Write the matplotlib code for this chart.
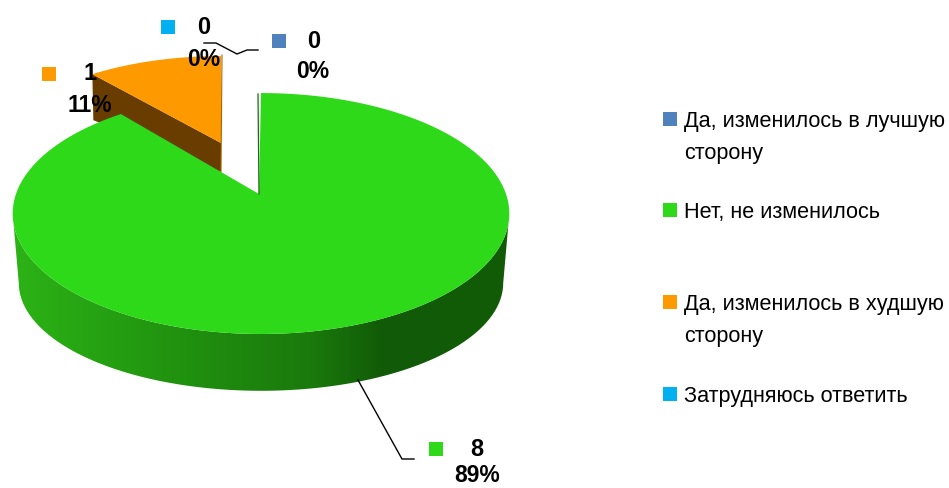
"""Exploded 3D-look pie of survey answers, drawn on a pixel-sized axes."""
import numpy as np
import matplotlib
matplotlib.use("Agg")
import matplotlib.pyplot as plt
from matplotlib.patches import Polygon, Rectangle
from matplotlib.colors import LinearSegmentedColormap

categories = ["Да, изменилось в лучшую\nсторону", "Нет, не изменилось",
              "Да, изменилось в худшую\nсторону", "Затрудняюсь ответить"]
counts = [0, 8, 1, 0]
percents = ["0%", "89%", "11%", "0%"]
colors = ["#4F81BD", "#2DD918", "#FF9900", "#00B0F0"]

K = 0.162  # perspective of the disc
NARROW = ["Liberation Sans Narrow", "Liberation Sans", "DejaVu Sans"]
LEGEND_FONT = ["Liberation Sans", "DejaVu Sans"]

shares = np.cumsum([0] + counts) / sum(counts) * 2 * np.pi


def disc(t, x0, y0, rx, ry):
    """Map clockwise-from-top angle on the disc to picture pixels."""
    d = 1 + K * np.cos(t)
    return x0 + rx * np.sin(t) / d, y0 - ry * np.cos(t) / d


fig = plt.figure(figsize=(9.49, 4.88), dpi=100)
ax = fig.add_axes([0, 0, 1, 1])
ax.set_xlim(0, 949)
ax.set_ylim(488, 0)
ax.axis("off")

# orange slice: cut face first, then its top
t_o = np.linspace(shares[2], shares[3], 40)
xo, yo = disc(t_o, 221, 143, 225, 101)
ax.add_patch(Polygon([(xo[0], yo[0]), (221, 143), (221, 172), (xo[0] + 1, yo[0] + 46)],
                     closed=True, fc="#693C00", ec="none", zorder=2))
ax.add_patch(Polygon(np.r_[[(221, 143)], np.c_[xo, yo]], closed=True,
                     fc=colors[2], ec="none", zorder=3))
ax.plot([222, 221], [55, 172], color="#A86500", lw=0.8, zorder=3)

# green slice: side wall with left-to-right shading
wall_cmap = LinearSegmentedColormap.from_list(
    "wall", [(0, "#2CB316"), (0.35, "#20900F"), (0.6, "#1A7A0C"),
             (0.75, "#115A07"), (1, "#125C08")])
t_wall = np.radians(np.linspace(99.5, 260.5, 160))
xt, yt = disc(t_wall, 261, 194, 245, 117.3)
xb, yb = disc(t_wall, 261, 265.5, 239, 105)
wall = Polygon(np.r_[np.c_[xt, yt], np.c_[xb, yb][::-1]], closed=True,
               fc="none", ec="none", transform=ax.transData)
ax.add_patch(wall)
img = ax.imshow(np.linspace(0, 1, 256)[None, :], cmap=wall_cmap, aspect="auto",
                extent=[13, 509, 400, 190], zorder=1)
img.set_clip_path(wall)
ax.set_xlim(0, 949)
ax.set_ylim(488, 0)

t_g = np.linspace(shares[1], shares[2], 300)
xg, yg = disc(t_g, 261, 194, 245, 117.3)
ax.add_patch(Polygon(np.r_[[(259, 194)], np.c_[xg, yg]], closed=True,
                     fc=colors[1], ec="none", zorder=4))
ax.plot([258, 259], [94, 194], color="#1A6A10", lw=0.9, zorder=5)

# leader lines
ax.plot([204, 216, 237, 247, 258], [43, 43, 54, 50, 50], color="black", lw=1, zorder=6)
ax.plot([358, 402, 414], [380, 459, 459], color="black", lw=1, zorder=3)

# data labels: swatch, count, percent
swatch_xy = [(272, 34), (429, 442), (42, 67), (161, 20)]
count_xy = [(314, 42), (477, 449), (90, 74), (204, 28)]
pct_xy = [(313, 72), (477, 476), (90, 105), (204, 60)]
for i in range(len(counts)):
    ax.add_patch(Rectangle(swatch_xy[i], 14, 14, fc=colors[i], ec="none", zorder=6))
    ax.text(*count_xy[i], str(counts[i]), family=NARROW, weight="bold", fontsize=17,
            ha="center", va="center", color="black", zorder=7)
    ax.text(*pct_xy[i], percents[i], family=NARROW, weight="bold", fontsize=16.5,
            ha="center", va="center", color="black", zorder=7)

# legend
legend_y = [112, 203, 295, 387]
for i, label in enumerate(categories):
    ax.add_patch(Rectangle((663, legend_y[i]), 14, 14, fc=colors[i], ec="none"))
    ax.text(684, legend_y[i] - 1, label, family=LEGEND_FONT, fontsize=15.6, ha="left",
            va="top", linespacing=1.7, color="black")

fig.savefig("out.png", dpi=100)
